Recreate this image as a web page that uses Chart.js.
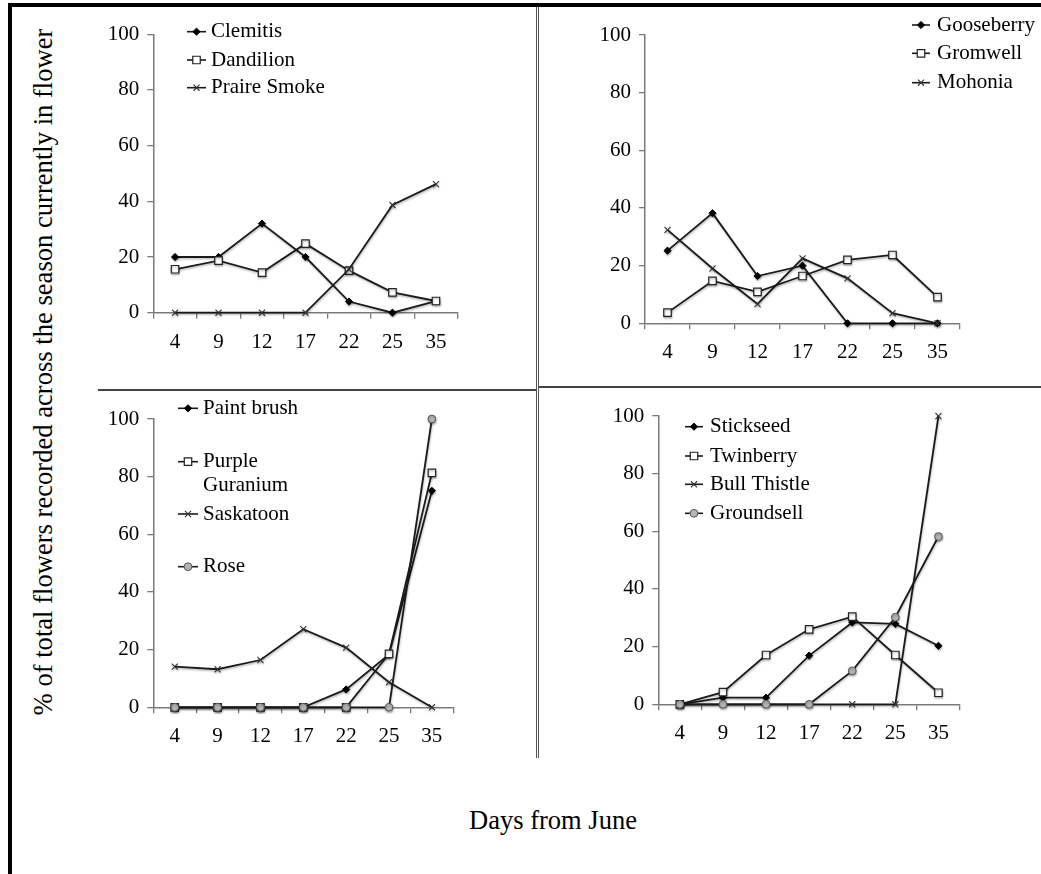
<!DOCTYPE html>
<html>
<head>
<meta charset="utf-8">
<script src="https://cdn.jsdelivr.net/npm/chart.js@4.4.1/dist/chart.umd.min.js"></script>
<style>
  html, body { margin: 0; padding: 0; background: #fff; }
  body { width: 1041px; height: 874px; position: relative; overflow: hidden; font-family: 'Liberation Serif', 'Times New Roman', serif; }
  .panel { position: absolute; }
  .rule { position: absolute; }
  #yTitle { position: absolute; left: 43px; top: 372px; transform: translate(-50%, -50%) rotate(-90deg); white-space: nowrap; font-size: 26.6px; color: #000; }
  #xTitle { position: absolute; left: 553px; top: 820px; transform: translate(-50%, -50%); white-space: nowrap; font-size: 26.5px; color: #000; }
</style>
</head>
<body>
<div class="rule" style="left:8px;top:3px;width:1033px;height:4px;background:#000"></div>
<div class="rule" style="left:8px;top:3px;width:4px;height:871px;background:#000"></div>
<div class="rule" style="left:536px;top:7px;width:1px;height:751px;background:#555"></div>
<div class="rule" style="left:538px;top:7px;width:1px;height:751px;background:#555"></div>
<div class="rule" style="left:98px;top:389px;width:438px;height:2px;background:#444"></div>
<div class="rule" style="left:539px;top:386px;width:502px;height:2px;background:#444"></div>
<div id="yTitle">% of total flowers recorded across the season currently in flower</div>
<div id="xTitle">Days from June</div>
<script>
// days from June (x categories)
const days = ['4', '9', '12', '17', '22', '25', '35'];
const yTicks = [0, 20, 40, 60, 80, 100];

// top left
const clemitis = [20, 20, 32, 20, 4, 0, 4.2];
const dandilion = [15.6, 18.7, 14.4, 24.8, 15.1, 7.3, 4.2];
const praireSmoke = [0, 0, 0, 0, 15.6, 38.7, 46.2];
// top right
const gooseberry = [25.2, 38.2, 16.4, 20, 0, 0, 0];
const gromwell = [3.7, 14.7, 10.9, 16.4, 22, 23.7, 9.1];
const mohonia = [32.4, 19, 6.7, 22.5, 15.6, 3.5, 0];
// bottom left
const paintBrush = [0, 0, 0, 0, 6.2, 18.3, 75.1];
const purpleGuranium = [0, 0, 0, 0, 0, 18.5, 81.3];
const saskatoon = [14.1, 13.2, 16.4, 27.1, 20.7, 8.7, 0];
const rose = [0, 0, 0, 0, 0, 0, 100];
// bottom right
const stickseed = [0, 2.3, 2.3, 16.9, 28.4, 27.9, 20.3];
const twinberry = [0, 4.2, 17.1, 26, 30.4, 17.1, 4];
const bullThistle = [0, 0, 0, 0, 0, 0, 100];
const groundsell = [0, 0, 0, 0, 11.6, 30.2, 58.2];

const FONT = "'Liberation Serif', 'Times New Roman', serif";
const LINE = '#1a1a1a';
const AXIS = '#7a7a7a';

const markers = {
  diamond: { pointStyle: 'rectRot', pointRadius: 3.6, pointBackgroundColor: '#000', pointBorderColor: '#000', pointBorderWidth: 1 },
  square: { pointStyle: 'rect', pointRadius: 5.3, pointBackgroundColor: '#fff', pointBorderColor: '#222', pointBorderWidth: 1.2 },
  cross: { pointStyle: 'crossRot', pointRadius: 4.3, pointBackgroundColor: '#000', pointBorderColor: '#333', pointBorderWidth: 1.1 },
  circle: { pointStyle: 'circle', pointRadius: 3.9, pointBackgroundColor: '#b4b4b4', pointBorderColor: '#555', pointBorderWidth: 1 }
};

const panels = [
  {
    area: { l: 153.3, t: 34.3, r: 457.7, b: 312.7 },
    series: [['Clemitis', clemitis, 'diamond'], ['Dandilion', dandilion, 'square'], ['Praire Smoke', praireSmoke, 'cross']],
    legend: { x1: 187, x2: 206, tx: 211, rows: [[31.7], [60], [87.7]] }
  },
  {
    area: { l: 645, t: 35, r: 960, b: 323.3 },
    series: [['Gooseberry', gooseberry, 'diamond'], ['Gromwell', gromwell, 'square'], ['Mohonia', mohonia, 'cross']],
    legend: { x1: 912, x2: 930, tx: 937, rows: [[25], [53.3], [82.7]] }
  },
  {
    area: { l: 153.3, t: 419, r: 453.3, b: 707.3 },
    series: [['Paint brush', paintBrush, 'diamond'], ['Purple Guranium', purpleGuranium, 'square'], ['Saskatoon', saskatoon, 'cross'], ['Rose', rose, 'circle']],
    legend: { x1: 178, x2: 198, tx: 203, rows: [[408.3], [461.7, 485], [514], [566.7]], text: [['Paint brush'], ['Purple', 'Guranium'], ['Saskatoon'], ['Rose']] }
  },
  {
    area: { l: 658.3, t: 416, r: 960, b: 704.3 },
    series: [['Stickseed', stickseed, 'diamond'], ['Twinberry', twinberry, 'square'], ['Bull Thistle', bullThistle, 'cross'], ['Groundsell', groundsell, 'circle']],
    legend: { x1: 685, x2: 703, tx: 710, rows: [[426.7], [456], [484.3], [513.3]] }
  }
];

const YW = 70, XH = 45, PT = 30, PR = 82;

// soft drop shadow under the series lines, like the original spreadsheet chart
const shadowPlugin = {
  id: 'lineShadow',
  beforeDatasetsDraw(chart) {
    const ctx = chart.ctx;
    ctx.save();
    ctx.shadowColor = 'rgba(0,0,0,0.28)';
    ctx.shadowBlur = 2;
    ctx.shadowOffsetX = 0.5;
    ctx.shadowOffsetY = 1.5;
  },
  afterDatasetsDraw(chart) {
    chart.ctx.restore();
  }
};

const legendPlugin = {
  id: 'panelLegend',
  afterDraw(chart, args, opts) {
    const ctx = chart.ctx;
    chart.data.datasets.forEach((ds, i) => {
      const rows = opts.rows[i];
      const lines = opts.text ? opts.text[i] : [ds.label];
      const y = rows[0] - opts.oy;
      const x1 = opts.x1 - opts.ox, x2 = opts.x2 - opts.ox;
      ctx.save();
      ctx.strokeStyle = ds.borderColor;
      ctx.lineWidth = 1.6;
      ctx.beginPath();
      ctx.moveTo(x1, y);
      ctx.lineTo(x2, y);
      ctx.stroke();
      ctx.fillStyle = ds.pointBackgroundColor;
      ctx.strokeStyle = ds.pointBorderColor;
      ctx.lineWidth = ds.pointBorderWidth;
      Chart.helpers.drawPoint(ctx, { pointStyle: ds.pointStyle, radius: ds.pointRadius, rotation: 0, borderWidth: ds.pointBorderWidth }, (x1 + x2) / 2, y);
      ctx.fillStyle = '#000';
      ctx.font = '21px ' + FONT;
      ctx.textBaseline = 'middle';
      ctx.textAlign = 'left';
      lines.forEach((t, k) => ctx.fillText(t, opts.tx - opts.ox, rows[k] - opts.oy));
      ctx.restore();
    });
  }
};

panels.forEach(p => {
  const a = p.area;
  const cl = Math.floor(a.l - YW), ct = Math.floor(a.t - PT);
  const w = Math.ceil(a.r + PR) - cl, h = Math.ceil(a.b + XH) - ct;
  const div = document.createElement('div');
  div.className = 'panel';
  div.style.left = cl + 'px';
  div.style.top = ct + 'px';
  div.style.width = w + 'px';
  div.style.height = h + 'px';
  const cv = document.createElement('canvas');
  div.appendChild(cv);
  document.body.appendChild(div);

  const n = p.series.length;
  new Chart(cv, {
    type: 'line',
    data: {
      labels: days,
      datasets: p.series.map(([name, values, m], i) => Object.assign({
        label: name,
        data: values,
        borderColor: LINE,
        borderWidth: 1.8,
        fill: false,
        tension: 0,
        clip: false,
        order: n - i
      }, markers[m]))
    },
    options: {
      responsive: true,
      maintainAspectRatio: false,
      animation: false,
      events: [],
      layout: {
        autoPadding: false,
        padding: { left: a.l - YW - cl, top: a.t - ct, right: cl + w - a.r, bottom: ct + h - a.b - XH }
      },
      plugins: {
        legend: { display: false },
        tooltip: { enabled: false },
        panelLegend: Object.assign({ ox: cl, oy: ct }, p.legend)
      },
      scales: {
        x: {
          type: 'category',
          offset: true,
          grid: { offset: true, drawOnChartArea: false, drawTicks: true, tickLength: 6, color: AXIS, lineWidth: 1.3 },
          border: { color: AXIS, width: 1.5 },
          ticks: { padding: 11, color: '#000', font: { family: FONT, size: 21 }, maxRotation: 0, autoSkip: false },
          afterFit(s) { s.height = XH; }
        },
        y: {
          min: 0,
          max: 100,
          afterBuildTicks(s) { s.ticks = yTicks.map(v => ({ value: v })); },
          grid: { drawOnChartArea: false, drawTicks: true, tickLength: 6, color: AXIS, lineWidth: 1.3 },
          border: { color: AXIS, width: 1.5 },
          ticks: { padding: 8, color: '#000', font: { family: FONT, size: 21 } },
          afterFit(s) { s.width = YW; }
        }
      }
    },
    plugins: [shadowPlugin, legendPlugin]
  });
});
</script>
</body>
</html>
